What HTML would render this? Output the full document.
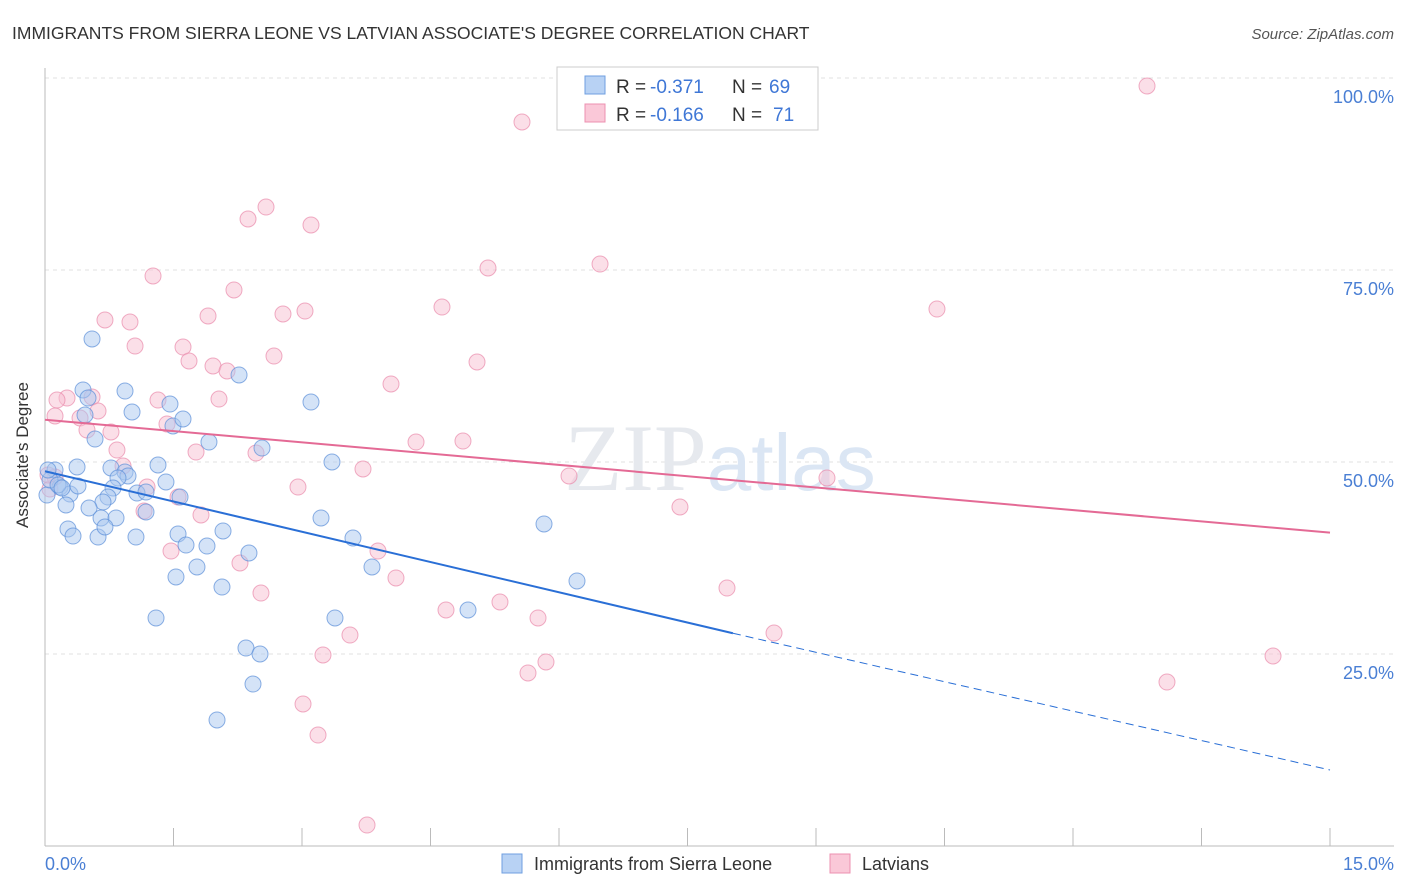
<!DOCTYPE html>
<html><head><meta charset="utf-8"><style>
body{margin:0;background:#fff;font-family:"Liberation Sans",sans-serif}
svg{display:block}
</style></head><body>
<svg width="1406" height="892">
<text x="12" y="39" font-size="17.5" fill="#333">IMMIGRANTS FROM SIERRA LEONE VS LATVIAN ASSOCIATE'S DEGREE CORRELATION CHART</text>
<text x="1394" y="39" font-size="15" fill="#555" text-anchor="end" font-style="italic">Source: ZipAtlas.com</text>
<g id="grid"></g>
<text x="720" y="490" font-size="95" fill="#e6e9ee" text-anchor="middle" font-family="Liberation Serif,serif">ZIP<tspan fill="#dbe6f4" font-family="Liberation Sans,sans-serif" font-size="80">atlas</tspan></text>
<g id="pts"></g>
<g id="lines"></g>
<text x="28" y="455" font-size="17" fill="#333" text-anchor="middle" transform="rotate(-90 28 455)">Associate's Degree</text>
<text x="45" y="870" font-size="18" fill="#4a7fd4">0.0%</text>
<text x="1394" y="870" font-size="18" fill="#4a7fd4" text-anchor="end">15.0%</text>
<g>
<rect x="557" y="67" width="261" height="63" fill="#fff" stroke="#ccc"/>
<rect x="585" y="76" width="20" height="18" fill="#b8d2f4" stroke="#6f9fe0"/>
<rect x="585" y="104" width="20" height="18" fill="#fac8d8" stroke="#ec90b0"/>
<text x="616" y="93" font-size="19" fill="#333">R =</text>
<text x="650" y="93" font-size="19" fill="#3f77d6">-0.371</text>
<text x="732" y="93" font-size="19" fill="#333">N =</text>
<text x="769" y="93" font-size="19" fill="#3f77d6">69</text>
<text x="616" y="121" font-size="19" fill="#333">R =</text>
<text x="650" y="121" font-size="19" fill="#3f77d6">-0.166</text>
<text x="732" y="121" font-size="19" fill="#333">N =</text>
<text x="773" y="121" font-size="19" fill="#3f77d6">71</text>
</g>
<g>
<rect x="502" y="854" width="20" height="19" fill="#b8d2f4" stroke="#6f9fe0"/>
<text x="534" y="870" font-size="18" fill="#333">Immigrants from Sierra Leone</text>
<rect x="830" y="854" width="20" height="19" fill="#fac8d8" stroke="#ec90b0"/>
<text x="862" y="870" font-size="18" fill="#333">Latvians</text>
</g>
</svg>
<script>
const yTicks=[25,50,75,100];
const yTickLabels=["25.0%","50.0%","75.0%","100.0%"];
const xTicks=[0,1.5,3,4.5,6,7.5,9,10.5,12,13.5,15];
const bluePx=[[92,339],[83,390],[125,391],[88,398],[132,412],[85,415],[95,439],[55,470],[77,467],[111,468],[125,472],[128,476],[118,478],[60,487],[70,494],[78,486],[113,488],[137,493],[146,492],[108,497],[103,502],[89,508],[66,505],[68,529],[73,536],[98,537],[101,518],[116,518],[105,527],[136,537],[158,465],[166,482],[180,497],[146,512],[170,404],[173,426],[183,419],[209,442],[239,375],[262,448],[311,402],[332,462],[178,534],[186,545],[207,546],[223,531],[249,553],[197,567],[176,577],[222,587],[321,518],[353,538],[372,567],[156,618],[335,618],[246,648],[260,654],[253,684],[217,720],[468,610],[544,524],[577,581],[47,495],[50,480],[48,470],[58,485],[62,488]];
const pinkPx=[[1147,86],[522,122],[266,207],[248,219],[311,225],[153,276],[488,268],[600,264],[234,290],[208,316],[283,314],[305,311],[105,320],[130,322],[442,307],[937,309],[135,346],[183,347],[189,361],[274,356],[477,362],[213,366],[227,371],[391,384],[219,399],[158,400],[67,398],[57,400],[92,397],[98,411],[55,416],[80,418],[87,430],[111,432],[167,424],[416,442],[463,441],[196,452],[256,453],[117,450],[363,469],[123,466],[55,477],[569,476],[827,478],[147,487],[178,497],[298,487],[680,507],[144,511],[201,515],[171,551],[240,563],[378,551],[396,578],[261,593],[446,610],[500,602],[538,618],[350,635],[323,655],[727,588],[774,633],[1273,656],[528,673],[546,662],[1167,682],[303,704],[318,735],[367,825],[50,489],[48,475]];
const blueX=bluePx.map(p=>+((p[0]-45)/85.667).toFixed(3));
const blueY=bluePx.map(p=>+((846-p[1])/7.68).toFixed(2));
const pinkX=pinkPx.map(p=>+((p[0]-45)/85.667).toFixed(3));
const pinkY=pinkPx.map(p=>+((846-p[1])/7.68).toFixed(2));
const blueTrend=[[0,48.8],[8.03,27.7],[15,9.9]];
const pinkTrend=[[0,55.5],[15,40.8]];
const X=v=>45+v*85.667, Y=v=>846-v*7.68;
const NS="http://www.w3.org/2000/svg";
function mk(t,a,parent){const e=document.createElementNS(NS,t);for(const k in a)e.setAttribute(k,a[k]);parent.appendChild(e);return e;}
const grid=document.getElementById('grid');
yTicks.forEach((t,i)=>{
 const l=mk('line',{x1:45,x2:1394,y1:Y(t),y2:Y(t),stroke:'#e2e2e2','stroke-dasharray':'4,4'},grid);
 
 
 const tx=mk('text',{x:1394,y:Y(t)+25,'font-size':18,fill:'#4a7fd4','text-anchor':'end'},grid);
 tx.textContent=yTickLabels[i];
 
 
});
const ax=mk('line',{x1:45,x2:1394,y1:846,y2:846,stroke:'#bbb'},grid);


const ay=mk('line',{x1:45,x2:45,y1:68,y2:846,stroke:'#bbb'},grid);


xTicks.forEach(t=>{
 const l=mk('line',{x1:X(t),x2:X(t),y1:828,y2:846,stroke:'#bbb'},grid);
 
 
});
const pts=document.getElementById('pts');
function dots(xs,ys,fill,stroke,name){xs.forEach((x,i)=>{
 const c=mk('circle',{cx:X(x),cy:Y(ys[i]),r:8,fill:fill,'fill-opacity':0.5,stroke:stroke,'stroke-opacity':0.7,'stroke-width':1},pts);
 
 
});}
dots(pinkX,pinkY,'#f8c0d2','#e98aab','latvians-point');
dots(blueX,blueY,'#aac8f0','#5b8fd8','sierra-leone-point');
const lines=document.getElementById('lines');
const b1=mk('line',{x1:X(blueTrend[0][0]),y1:Y(blueTrend[0][1]),x2:X(blueTrend[1][0]),y2:Y(blueTrend[1][1]),stroke:'#2a6fd6','stroke-width':2},lines);


const b2=mk('line',{x1:X(blueTrend[1][0]),y1:Y(blueTrend[1][1]),x2:X(blueTrend[2][0]),y2:Y(blueTrend[2][1]),stroke:'#2a6fd6','stroke-width':1,'stroke-dasharray':'8,5'},lines);


const p1=mk('line',{x1:X(pinkTrend[0][0]),y1:Y(pinkTrend[0][1]),x2:X(pinkTrend[1][0]),y2:Y(pinkTrend[1][1]),stroke:'#e46a95','stroke-width':2},lines);


</script>
</body></html>
